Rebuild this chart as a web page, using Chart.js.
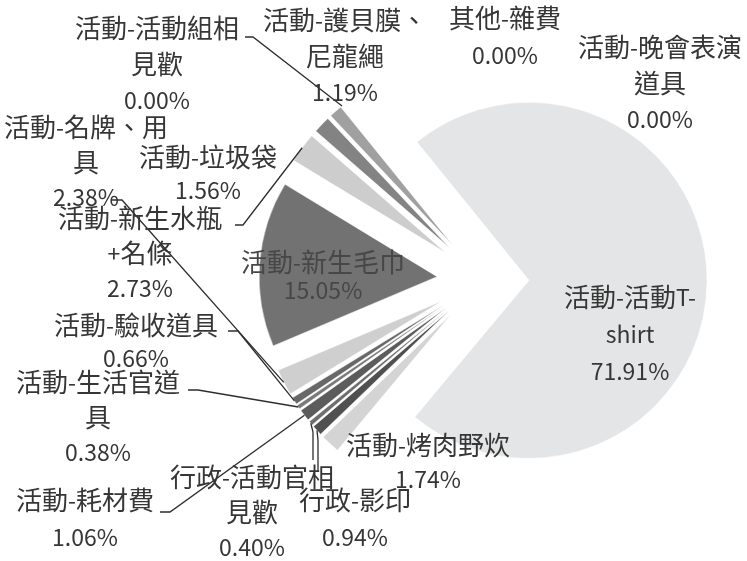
<!DOCTYPE html>
<html>
<head>
<meta charset="utf-8">
<script src="https://cdn.jsdelivr.net/npm/chart.js@4.4.1/dist/chart.umd.min.js"></script>
<style>
  html, body { margin: 0; padding: 0; background: #fff; }
  canvas { display: block; }
</style>
</head>
<body>
<canvas id="myChart" width="747" height="561"></canvas>
<script>

// categories in drawing order (clockwise), "\n" = where the label wraps
let categories = [
    '活動-活動T-\nshirt',
    '活動-烤肉野炊',
    '行政-影印',
    '行政-活動官相\n見歡',
    '活動-耗材費',
    '活動-生活官道\n具',
    '活動-驗收道具',
    '活動-名牌、用\n具',
    '活動-新生毛巾',
    '活動-新生水瓶\n+名條',
    '活動-垃圾袋',
    '活動-護貝膜、\n尼龍繩',
    '活動-活動組相\n見歡',
    '其他-雜費',
    '活動-晚會表演\n道具'
];

let values = [71.91, 1.74, 0.94, 0.40, 1.06, 0.38, 0.66, 2.38, 15.05, 2.73, 1.56, 1.19, 0.00, 0.00, 0.00];

let sliceColors = [
    '#e4e5e6', '#d4d4d4', '#505050', '#6e6e6e', '#5c5c5c', '#7a7a7a', '#686868',
    '#cfcfcf', '#727272', '#cdcdcd', '#838383', '#a0a0a0', '#999999', '#999999', '#999999'
];

// label placement: centre x, y of first line, line height
let labelPos = [
    [630, 297, 37], [428, 445, 34], [355, 500, 37], [252, 477, 35], [85, 500, 37],
    [98, 382, 35], [136, 325, 33], [86, 127, 35], [323, 262, 28], [140, 218, 35],
    [208, 157, 33], [345, 20, 36], [157, 28, 36], [505, 18, 37], [660, 47, 36]
];

// leader lines: points from the label towards the slice
let leaders = {
    2: [[318, 472], [318, 440]],
    3: [[313, 460], [313, 432]],
    4: [[160, 512], [170, 512]],
    5: [[188, 390], [198, 390]],
    6: [[228, 331], [238, 331]],
    7: [[112, 200], [122, 200]],
    9: [[235, 225], [243, 225]],
    12: [[245, 37], [253, 37]]
};

const explode = 46;

// every slice pulled out by the same distance, Excel style
const explodePie = {
    id: 'explodePie',
    afterDatasetUpdate(chart) {
        chart.getDatasetMeta(0).data.forEach(arc => {
            const mid = (arc.startAngle + arc.endAngle) / 2;
            arc.x += Math.cos(mid) * explode;
            arc.y += Math.sin(mid) * explode;
        });
    }
};

const cjk = /[\u3000-\u9fff\uff00-\uffef]+|[^\u3000-\u9fff\uff00-\uffef]+/g;
const cjkTest = /[\u3000-\u9fff\uff00-\uffef]/;
const fontCJK = '26px "Noto Sans CJK TC"';
const fontLatin = '23px "Noto Sans CJK TC"';

function drawMixed(ctx, text, cx, cy) {
    const runs = text.match(cjk) || [];
    let w = 0;
    const widths = runs.map(r => {
        ctx.font = cjkTest.test(r) ? fontCJK : fontLatin;
        const m = ctx.measureText(r).width;
        w += m;
        return m;
    });
    let x = cx - w / 2;
    runs.forEach((r, k) => {
        ctx.font = cjkTest.test(r) ? fontCJK : fontLatin;
        ctx.fillText(r, x, cy);
        x += widths[k];
    });
}

const pieLabels = {
    id: 'pieLabels',
    afterDatasetsDraw(chart) {
        const ctx = chart.ctx;
        const meta = chart.getDatasetMeta(0);
        ctx.save();
        ctx.strokeStyle = '#2e2e2e';
        ctx.lineWidth = 1.3;
        meta.data.forEach((arc, i) => {
            if (!leaders[i]) return;
            const p = arc.getProps(['x', 'y', 'startAngle', 'endAngle', 'outerRadius'], true);
            const mid = (p.startAngle + p.endAngle) / 2;
            const pts = leaders[i];
            ctx.beginPath();
            ctx.moveTo(pts[0][0], pts[0][1]);
            for (let k = 1; k < pts.length; k++) ctx.lineTo(pts[k][0], pts[k][1]);
            ctx.lineTo(p.x + Math.cos(mid) * p.outerRadius, p.y + Math.sin(mid) * p.outerRadius);
            ctx.stroke();
        });

        ctx.textAlign = 'left';
        ctx.textBaseline = 'middle';
        categories.forEach((name, i) => {
            const lines = name.split('\n');
            lines.push(values[i].toFixed(2) + '%');
            const [x, y, lh] = labelPos[i];
            ctx.fillStyle = i === 8 ? '#474747' : '#363636';
            lines.forEach((t, k) => drawMixed(ctx, t, x, y + k * lh));
        });
        ctx.restore();
    }
};

let myChart1 = document.getElementById('myChart').getContext('2d');

let chart1 = new Chart(myChart1, {
    type: 'pie',
    data: {
        labels: categories,
        datasets: [{
            data: values,
            backgroundColor: sliceColors,
            borderColor: '#ffffff',
            borderWidth: 0.5
        }]
    },
    options: {
        responsive: false,
        animation: false,
        rotation: -39,
        radius: 178,
        layout: {
            padding: { left: 219, right: 0, top: 0, bottom: 1 }
        },
        plugins: {
            legend: { display: false },
            tooltip: { enabled: false }
        }
    },
    plugins: [explodePie, pieLabels]
});
</script>
</body>
</html>
